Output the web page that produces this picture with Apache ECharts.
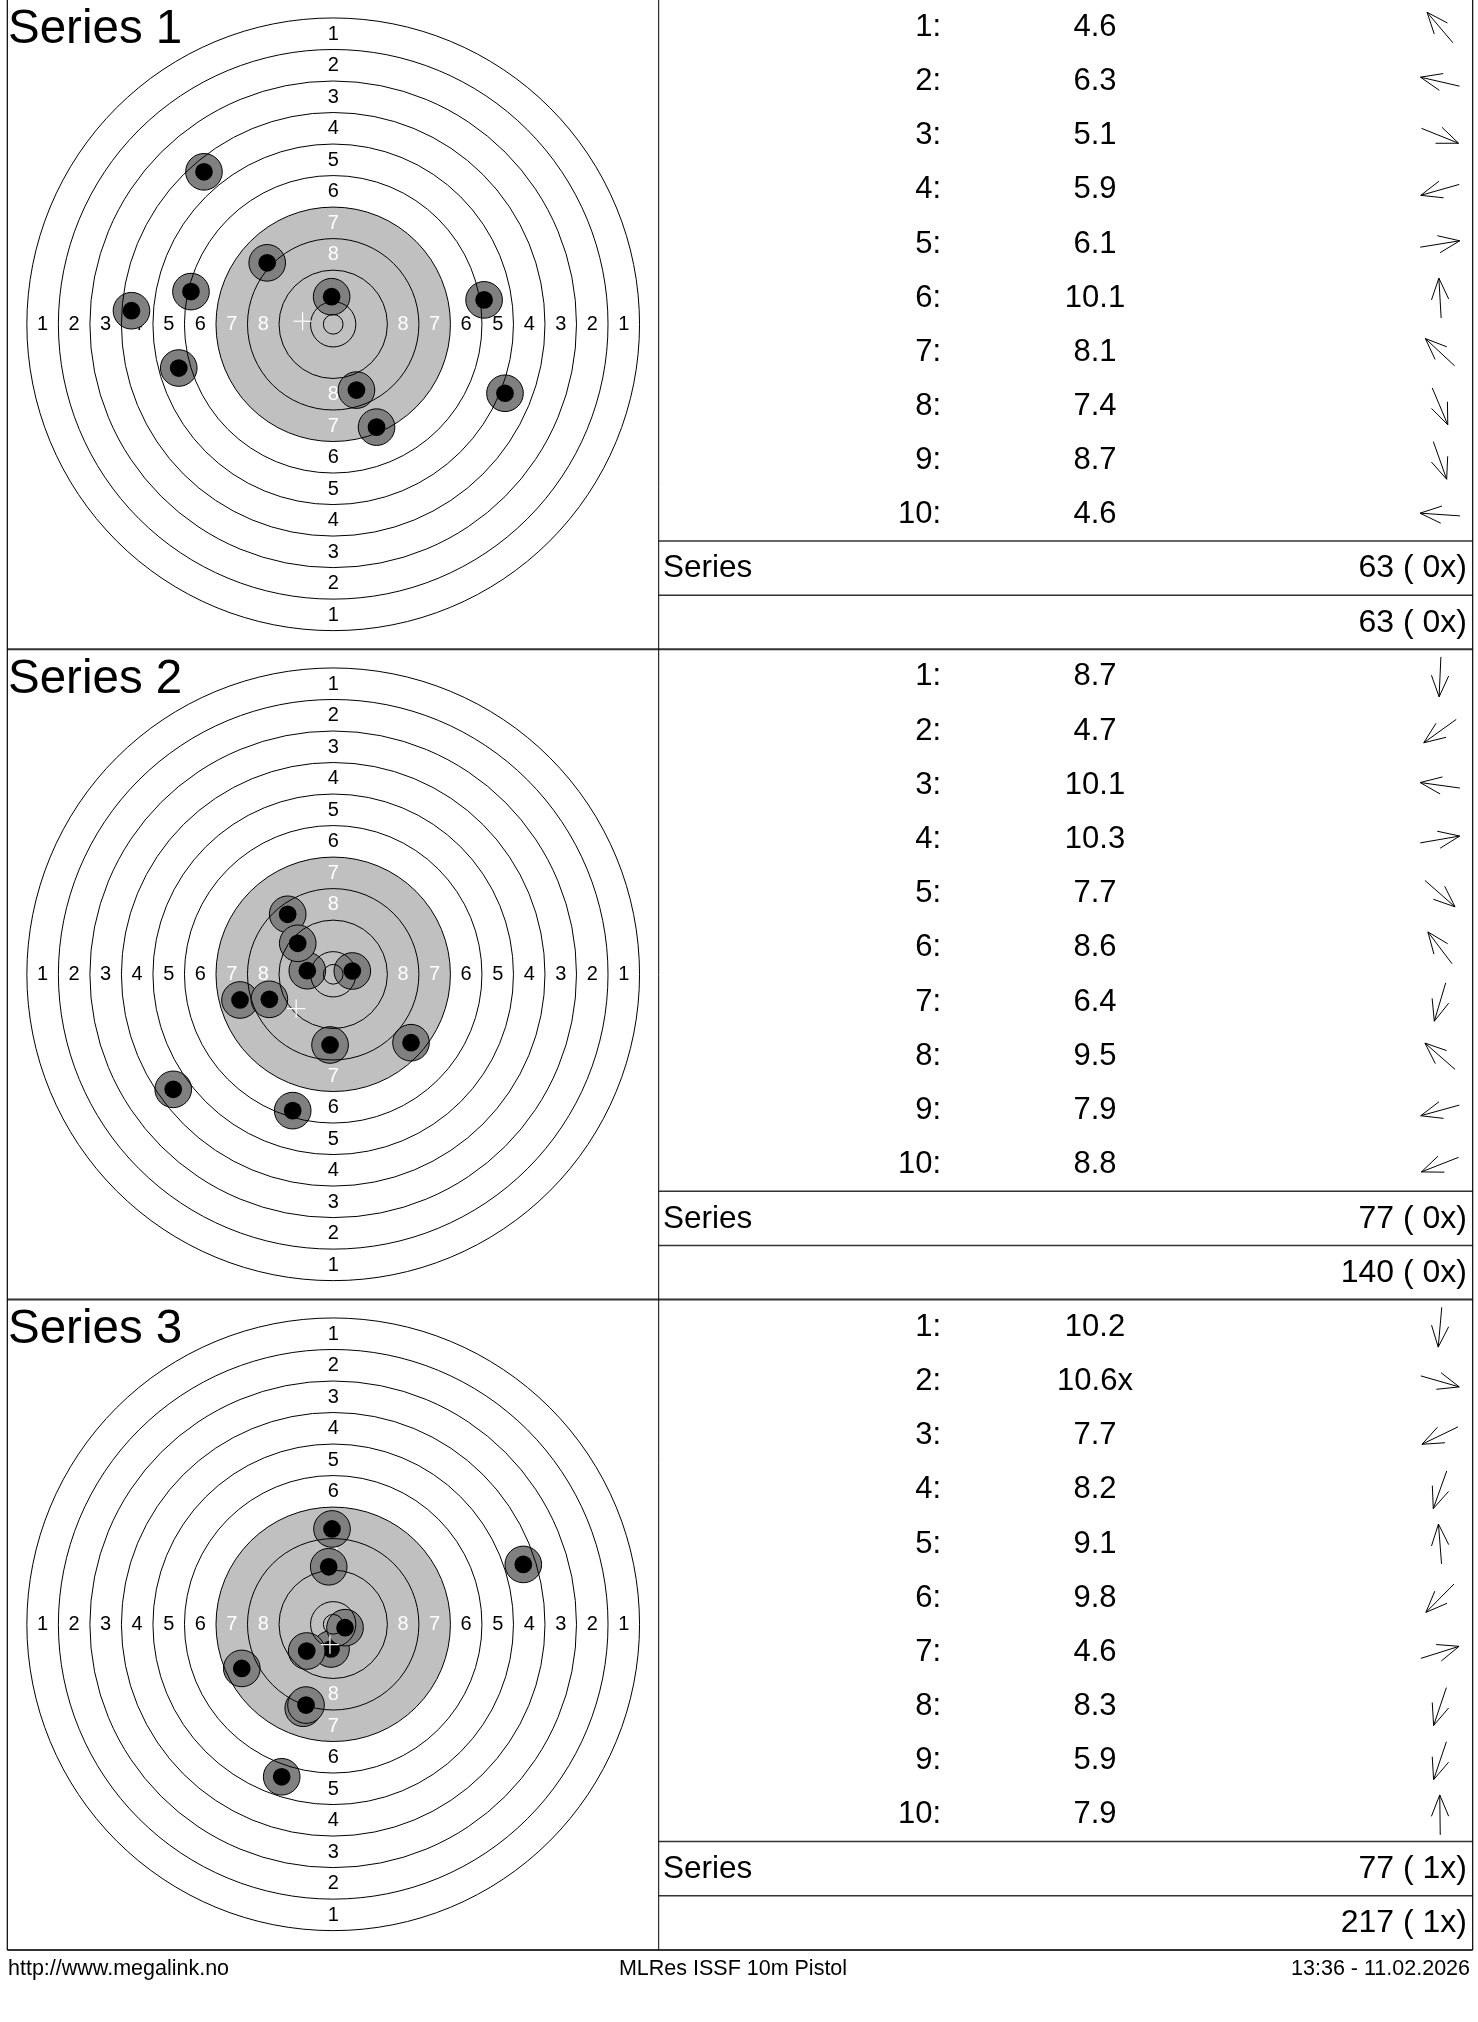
<!DOCTYPE html>
<html>
<head>
<meta charset="utf-8">
<script src="https://cdn.jsdelivr.net/npm/echarts/dist/echarts.min.js"></script>
<style>
html,body{margin:0;padding:0;background:#fff;}
#chart{width:1478px;height:2022px;}
</style>
</head>
<body>
<div id="chart"></div>
<script>
// ---------------- DATA ----------------
const seriesTitles = ['Series 1', 'Series 2', 'Series 3'];
const shotNumbers = ['1:', '2:', '3:', '4:', '5:', '6:', '7:', '8:', '9:', '10:'];

const scores1 = ['4.6', '6.3', '5.1', '5.9', '6.1', '10.1', '8.1', '7.4', '8.7', '4.6'];
const scores2 = ['8.7', '4.7', '10.1', '10.3', '7.7', '8.6', '6.4', '9.5', '7.9', '8.8'];
const scores3 = ['10.2', '10.6x', '7.7', '8.2', '9.1', '9.8', '4.6', '8.3', '5.9', '7.9'];

// shot positions in mm from target centre (x right, y up), in shot order
const shotsX1 = [-32.8, -36.1, 43.6, -39.2, 38.3, -0.4, -16.75, 11.0, 5.9, -51.2];
const shotsY1 = [38.7, 8.3, -17.5, -11.1, 6.2, 7.0, 15.6, -26.1, -16.7, 3.45];
const shotsX2 = [-0.8, -40.6, -6.57, 4.85, 19.75, -11.55, -10.28, -9.0, -23.65, -16.2];
const shotsY2 = [-17.94, -29.2, 0.91, 0.84, -17.36, 15.23, -34.6, 7.87, -6.52, -6.35];
const shotsX3 = [-0.56, 3.0, -23.2, -7.6, -1.14, -6.73, 48.25, -6.9, -13.07, -0.3];
const shotsY3 = [-6.27, -0.86, -11.2, -21.3, 14.6, -6.78, 15.2, -20.5, -38.7, 24.2];

const summaryLabel = 'Series';
const seriesTotals = ['63 ( 0x)', '77 ( 0x)', '77 ( 1x)'];
const runningTotals = ['63 ( 0x)', '140 ( 0x)', '217 ( 1x)'];

// ISSF 10m air pistol target, ring radii in mm (ring 1 ... ring 10, inner ten)
const ringRadii = [77.75, 69.75, 61.75, 53.75, 45.75, 37.75, 29.75, 21.75, 13.75, 5.75, 2.5];
const ringLabels = ['1', '2', '3', '4', '5', '6', '7', '8'];
const blackRadius = 29.75;

const footerLeft = 'http://www.megalink.no';
const footerCenter = 'MLRes ISSF 10m Pistol';
const footerRight = '13:36 - 11.02.2026';

// ---------------- LAYOUT ----------------
const FONT = '"Liberation Sans", Arial, Helvetica, sans-serif';
const PX_PER_MM = 3.94;
const SPAN = 80;
const PANEL_H = 650.3, PANEL_TOP0 = -1;
const TARGET_LEFT = 18.0, TARGET_TOP0 = 9.1, TARGET_PITCH = 650;
const TABLE_LEFT = 659, TABLE_W = 814;
const FRAME_L = 7.3, FRAME_R = 1472.7, DIVIDER = 658.7, FRAME_BOTTOM = 1950;
const HOLE_OUTER_MM = 4.65, HOLE_MM = 2.25, CROSS_MM = 2.3;
const ARROW_LEN = 40, ARROW_HEAD = 23, ARROW_ANG = 22 * Math.PI / 180;

const allX = [shotsX1, shotsX2, shotsX3];
const allY = [shotsY1, shotsY2, shotsY3];
const allScores = [scores1, scores2, scores3];
const rowKeys = shotNumbers.concat(['series', 'total']);

const chart = echarts.init(document.getElementById('chart'), null, {renderer: 'canvas', width: 1478, height: 2022});

const grids = [], xAxes = [], yAxes = [], series = [], graphics = [];

for (let k = 0; k < 3; k++) {
  const size = 2 * SPAN * PX_PER_MM;
  const tg = grids.length;
  grids.push({left: TARGET_LEFT, top: TARGET_TOP0 + k * TARGET_PITCH, width: size, height: size});
  xAxes.push({type: 'value', gridIndex: tg, min: -SPAN, max: SPAN, show: false});
  yAxes.push({type: 'value', gridIndex: tg, min: -SPAN, max: SPAN, show: false});
  const tb = grids.length;
  const panelTop = PANEL_TOP0 + k * PANEL_H;
  grids.push({left: TABLE_LEFT, top: panelTop, width: TABLE_W, height: PANEL_H});
  xAxes.push({type: 'value', gridIndex: tb, min: 0, max: TABLE_W, show: false});
  yAxes.push({type: 'category', gridIndex: tb, data: rowKeys, inverse: true, show: false});

  const xs = allX[k], ys = allY[k], sc = allScores[k];
  const common = {type: 'custom', xAxisIndex: tg, yAxisIndex: tg, silent: true, animation: false};

  // black (grey) aiming area
  series.push(Object.assign({}, common, {
    z: 1,
    data: [[0, 0, blackRadius]],
    renderItem: function (p, api) {
      const c = api.coord([api.value(0), api.value(1)]);
      const r = api.size([api.value(2), 0])[0];
      return {type: 'circle', shape: {cx: c[0], cy: c[1], r: r}, style: {fill: '#c0c0c0'}};
    }
  }));

  // ring numbers
  const labelData = [];
  for (let i = 0; i < ringLabels.length; i++) {
    const m = (ringRadii[i] + ringRadii[i + 1]) / 2;
    labelData.push([-m, 0, i], [m, 0, i], [0, m, i], [0, -m, i]);
  }
  series.push(Object.assign({}, common, {
    z: 2,
    data: labelData,
    renderItem: function (p, api) {
      const c = api.coord([api.value(0), api.value(1)]);
      const idx = api.value(2);
      return {type: 'text', style: {text: ringLabels[idx], x: c[0], y: c[1] + 0.5,
        fill: idx >= 6 ? '#ffffff' : '#000000', font: '20px ' + FONT, align: 'center', verticalAlign: 'middle'}};
    }
  }));

  // shots
  series.push(Object.assign({}, common, {
    z: 3,
    data: xs.map((x, i) => [x, ys[i]]),
    renderItem: function (p, api) {
      const c = api.coord([api.value(0), api.value(1)]);
      const ro = api.size([HOLE_OUTER_MM * 2, 0])[0] / 2;
      const ri = api.size([HOLE_MM * 2, 0])[0] / 2;
      return {type: 'group', children: [
        {type: 'circle', shape: {cx: c[0], cy: c[1], r: ro}, style: {fill: '#808080', stroke: '#000', lineWidth: 1}},
        {type: 'circle', shape: {cx: c[0], cy: c[1], r: ri}, style: {fill: '#000'}}
      ]};
    }
  }));

  // ring lines
  series.push(Object.assign({}, common, {
    z: 4,
    data: ringRadii.map(r => [0, 0, r]),
    renderItem: function (p, api) {
      const c = api.coord([api.value(0), api.value(1)]);
      const r = api.size([api.value(2) * 2, 0])[0] / 2;
      return {type: 'circle', shape: {cx: c[0], cy: c[1], r: r}, style: {fill: 'none', stroke: '#000', lineWidth: 1}};
    }
  }));

  // mean point of impact cross
  const mx = xs.reduce((a, b) => a + b, 0) / xs.length;
  const my = ys.reduce((a, b) => a + b, 0) / ys.length;
  series.push(Object.assign({}, common, {
    z: 5,
    data: [[mx, my]],
    renderItem: function (p, api) {
      const c = api.coord([api.value(0), api.value(1)]);
      const h = api.size([CROSS_MM * 2, 0])[0] / 2;
      return {type: 'group', children: [
        {type: 'line', shape: {x1: c[0] - h, y1: c[1], x2: c[0] + h, y2: c[1]}, style: {stroke: '#fff', lineWidth: 1.2}},
        {type: 'line', shape: {x1: c[0], y1: c[1] - h, x2: c[0], y2: c[1] + h}, style: {stroke: '#fff', lineWidth: 1.2}}
      ]};
    }
  }));

  // table: shot rows
  const tcommon = {type: 'custom', xAxisIndex: tb, yAxisIndex: tb, silent: true, animation: false, z: 3};
  series.push(Object.assign({}, tcommon, {
    data: sc.map((s, i) => [0, i]),
    renderItem: function (p, api) {
      const i = p.dataIndex;
      const c = api.coord([0, api.value(1)]);
      const y = c[1] + 0.5;
      const ax = api.coord([781, 0])[0];
      const th = Math.atan2(ys[i], xs[i]);
      const dx = Math.cos(th), dy = -Math.sin(th);
      const tx = ax + dx * ARROW_LEN / 2, ty = y + dy * ARROW_LEN / 2;
      const bx = ax - dx * ARROW_LEN / 2, by = y - dy * ARROW_LEN / 2;
      const back = Math.atan2(-dy, -dx);
      const h1x = tx + ARROW_HEAD * Math.cos(back + ARROW_ANG), h1y = ty + ARROW_HEAD * Math.sin(back + ARROW_ANG);
      const h2x = tx + ARROW_HEAD * Math.cos(back - ARROW_ANG), h2y = ty + ARROW_HEAD * Math.sin(back - ARROW_ANG);
      return {type: 'group', children: [
        {type: 'text', style: {text: shotNumbers[i], x: api.coord([282, 0])[0], y: y, fill: '#000',
          font: '31px ' + FONT, align: 'right', verticalAlign: 'middle'}},
        {type: 'text', style: {text: sc[i], x: api.coord([436, 0])[0], y: y, fill: '#000',
          font: '31px ' + FONT, align: 'center', verticalAlign: 'middle'}},
        {type: 'line', shape: {x1: bx, y1: by, x2: tx, y2: ty}, style: {stroke: '#000', lineWidth: 1}},
        {type: 'polyline', shape: {points: [[h1x, h1y], [tx, ty], [h2x, h2y]]}, style: {stroke: '#000', lineWidth: 1, fill: 'none'}}
      ]};
    }
  }));

  // table: summary rows
  series.push(Object.assign({}, tcommon, {
    data: [[0, 10], [0, 11]],
    renderItem: function (p, api) {
      const row = api.value(1);
      const c = api.coord([0, row]);
      const bw = api.size([0, 1])[1];
      const top = c[1] - bw / 2;
      const children = [
        {type: 'line', shape: {x1: DIVIDER, y1: top, x2: FRAME_R, y2: top}, style: {stroke: '#333', lineWidth: 1.5}},
        {type: 'text', style: {text: row === 10 ? seriesTotals[k] : runningTotals[k], x: api.coord([808, 0])[0], y: c[1] + 0.5,
          fill: '#000', font: '32px ' + FONT, align: 'right', verticalAlign: 'middle'}}
      ];
      if (row === 10) {
        children.push({type: 'text', style: {text: summaryLabel, x: api.coord([4, 0])[0], y: c[1] + 0.5,
          fill: '#000', font: '31.5px ' + FONT, align: 'left', verticalAlign: 'middle'}});
      }
      return {type: 'group', children: children};
    }
  }));

  // panel title
  graphics.push({type: 'text', left: 8, top: panelTop + 6.5, z: 10, silent: true,
    style: {text: seriesTitles[k], fill: '#000', font: '47.5px ' + FONT}});
  // panel separator
  graphics.push({type: 'line', z: 10, silent: true,
    shape: {x1: FRAME_L, y1: panelTop + PANEL_H, x2: FRAME_R, y2: panelTop + PANEL_H},
    style: {stroke: '#333', lineWidth: 2}});
}

// frame
graphics.push({type: 'line', z: 10, silent: true, shape: {x1: FRAME_L, y1: -2, x2: FRAME_L, y2: FRAME_BOTTOM}, style: {stroke: '#000', lineWidth: 1.2}});
graphics.push({type: 'line', z: 10, silent: true, shape: {x1: FRAME_R, y1: -2, x2: FRAME_R, y2: FRAME_BOTTOM}, style: {stroke: '#000', lineWidth: 1.2}});
graphics.push({type: 'line', z: 10, silent: true, shape: {x1: DIVIDER, y1: -2, x2: DIVIDER, y2: FRAME_BOTTOM}, style: {stroke: '#000', lineWidth: 1}});

// footer
graphics.push({type: 'text', z: 10, silent: true, x: 8, y: 1968.7,
  style: {text: footerLeft, fill: '#000', font: '21.5px ' + FONT, align: 'left', verticalAlign: 'middle'}});
graphics.push({type: 'text', z: 10, silent: true, x: 733, y: 1968.7,
  style: {text: footerCenter, fill: '#000', font: '21.5px ' + FONT, align: 'center', verticalAlign: 'middle'}});
graphics.push({type: 'text', z: 10, silent: true, x: 1470, y: 1968.7,
  style: {text: footerRight, fill: '#000', font: '21.5px ' + FONT, align: 'right', verticalAlign: 'middle'}});

chart.setOption({
  backgroundColor: '#ffffff',
  animation: false,
  grid: grids,
  xAxis: xAxes,
  yAxis: yAxes,
  series: series,
  graphic: graphics
});
</script>
</body>
</html>
